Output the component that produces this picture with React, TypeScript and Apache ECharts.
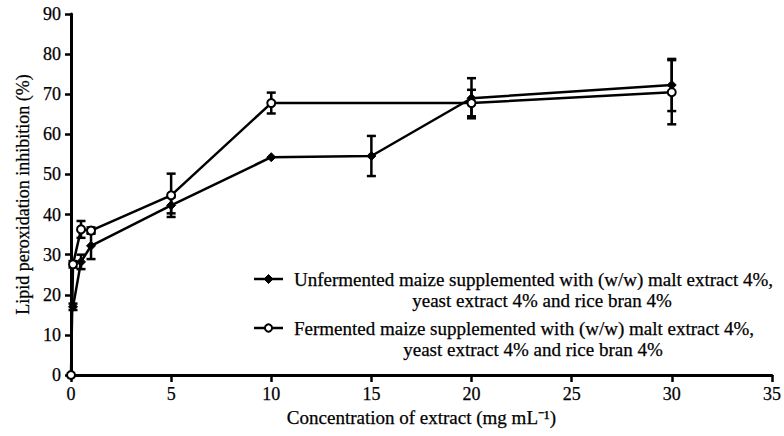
import React, { useEffect, useRef } from "react";
import * as echarts from "echarts";

const unfermentedX = [0.1, 0.5, 1, 5, 10, 15, 20, 30];
const unfermentedY = [17, 28.2, 32.2, 42.3, 54.3, 54.6, 69, 72.3];
const unfermentedErr = [0.8, 1.8, 3.3, 2, 0, 5, 5, 6.5];

const fermentedX = [0, 0.1, 0.5, 1, 5, 10, 20, 30];
const fermentedY = [0, 27.6, 36.3, 36, 44.8, 67.8, 67.8, 70.5];
const fermentedErr = [0, 0.8, 2.1, 0.8, 5.4, 2.6, 3.3, 8];

const xTicks = { min: 0, max: 35, interval: 5 };
const yTicks = { min: 0, max: 90, interval: 10 };

const legendLine1 = [
  "Unfermented maize supplemented with (w/w) malt extract 4%,",
  "Fermented maize supplemented with (w/w) malt extract 4%,",
];
const legendLine2 = ["yeast extract 4% and rice bran 4%", "yeast extract 4% and rice bran 4%"];

const FONT = '"Liberation Serif", "Times New Roman", serif';
const HEAVY = { textBorderColor: "#000", textBorderWidth: 0.25 };

export default function App() {
  const ref = useRef<HTMLDivElement>(null);
  useEffect(() => {
    if (!ref.current) return;
    const chart = echarts.init(ref.current, undefined, { renderer: "svg" });
    const pts = (xs: number[], ys: number[]) => xs.map((x, i) => [x, ys[i]]);
    const errs = (xs: number[], ys: number[], es: number[]) =>
      xs.map((x, i) => [x, ys[i] - es[i], ys[i] + es[i]]).filter((_, i) => es[i] > 0);

    const errRender = (params: any, api: any) => {
      const x = api.value(0);
      const top = api.coord([x, api.value(2)]);
      const bot = api.coord([x, api.value(1)]);
      const hw = 4.5;
      const st = { stroke: "#000", lineWidth: 2.5 };
      return {
        type: "group",
        children: [
          { type: "line", shape: { x1: top[0], y1: top[1], x2: bot[0], y2: bot[1] }, style: st },
          { type: "line", shape: { x1: top[0] - hw, y1: top[1], x2: top[0] + hw, y2: top[1] }, style: st },
          { type: "line", shape: { x1: bot[0] - hw, y1: bot[1], x2: bot[0] + hw, y2: bot[1] }, style: st },
        ],
      };
    };

    const rowY = [279, 328];
    const line2Center = [542, 533];
    const legendGraphics: any[] = [];
    rowY.forEach((y, i) => {
      legendGraphics.push({
        type: "line",
        shape: { x1: 254, y1: y, x2: 283, y2: y },
        style: { stroke: "#000", lineWidth: 2.5 },
      });
      if (i === 0) {
        legendGraphics.push({
          type: "polygon",
          shape: { points: [[268.5, y - 4.5], [273, y], [268.5, y + 4.5], [264, y]] },
          style: { fill: "#000", stroke: "#000", lineWidth: 1 },
        });
      } else {
        legendGraphics.push({
          type: "circle",
          shape: { cx: 268.5, cy: y, r: 3.6 },
          style: { fill: "#fff", stroke: "#000", lineWidth: 2 },
        });
      }
      legendGraphics.push({
        type: "text",
        x: 294,
        y: y,
        style: {
          text: legendLine1[i],
          fill: "#000",
          fontFamily: FONT,
          fontSize: 19,
          align: "left",
          verticalAlign: "middle",
          stroke: "#000",
          lineWidth: 0.25,
        },
      });
      legendGraphics.push({
        type: "text",
        x: line2Center[i],
        y: y + 21,
        style: {
          text: legendLine2[i],
          fill: "#000",
          fontFamily: FONT,
          fontSize: 19,
          align: "center",
          verticalAlign: "middle",
          stroke: "#000",
          lineWidth: 0.25,
        },
      });
    });

    chart.setOption({
      animation: false,
      backgroundColor: "#fff",
      grid: { left: 71, top: 14, right: 7, bottom: 61, containLabel: false },
      xAxis: {
        type: "value",
        min: xTicks.min,
        max: xTicks.max,
        interval: xTicks.interval,
        name: "Concentration of extract (mg mL⁻¹)",
        nameLocation: "middle",
        nameGap: 33,
        nameTextStyle: { fontFamily: FONT, fontSize: 19, color: "#000", ...HEAVY },
        axisLine: { lineStyle: { color: "#000", width: 3 } },
        axisTick: { length: 7, lineStyle: { color: "#000", width: 2.5 } },
        axisLabel: { fontFamily: FONT, fontSize: 18, color: "#000", margin: 10, ...HEAVY },
        splitLine: { show: false },
      },
      yAxis: {
        type: "value",
        min: yTicks.min,
        max: yTicks.max,
        interval: yTicks.interval,
        name: "Lipid peroxidation inhibition (%)",
        nameLocation: "middle",
        nameGap: 39,
        nameTextStyle: { fontFamily: FONT, fontSize: 18, color: "#000", ...HEAVY },
        axisLine: { lineStyle: { color: "#000", width: 3 } },
        axisTick: { length: 6, lineStyle: { color: "#000", width: 2.5 } },
        axisLabel: { fontFamily: FONT, fontSize: 18, color: "#000", margin: 10, ...HEAVY },
        splitLine: { show: false },
      },
      graphic: legendGraphics,
      series: [
        {
          type: "custom",
          name: "err-unfermented",
          renderItem: errRender,
          data: errs(unfermentedX, unfermentedY, unfermentedErr),
          z: 1,
          clip: false,
        },
        {
          type: "custom",
          name: "err-fermented",
          renderItem: errRender,
          data: errs(fermentedX, fermentedY, fermentedErr),
          z: 1,
          clip: false,
        },
        {
          type: "line",
          name: legendLine1[0],
          data: pts(unfermentedX, unfermentedY),
          symbol: "diamond",
          symbolSize: 9,
          showAllSymbol: true,
          lineStyle: { color: "#000", width: 2.5 },
          itemStyle: { color: "#000", borderColor: "#000", borderWidth: 1 },
          z: 3,
          clip: false,
        },
        {
          type: "line",
          name: legendLine1[1],
          data: pts(fermentedX, fermentedY),
          symbol: "circle",
          symbolSize: 8,
          showAllSymbol: true,
          lineStyle: { color: "#000", width: 2.5 },
          itemStyle: { color: "#fff", borderColor: "#000", borderWidth: 2 },
          z: 4,
          clip: false,
        },
      ],
    });
    return () => chart.dispose();
  }, []);
  return (
    <div
      ref={ref}
      style={{ position: "fixed", left: 0, top: 0, width: 784, height: 436, background: "#fff" }}
    />
  );
}
